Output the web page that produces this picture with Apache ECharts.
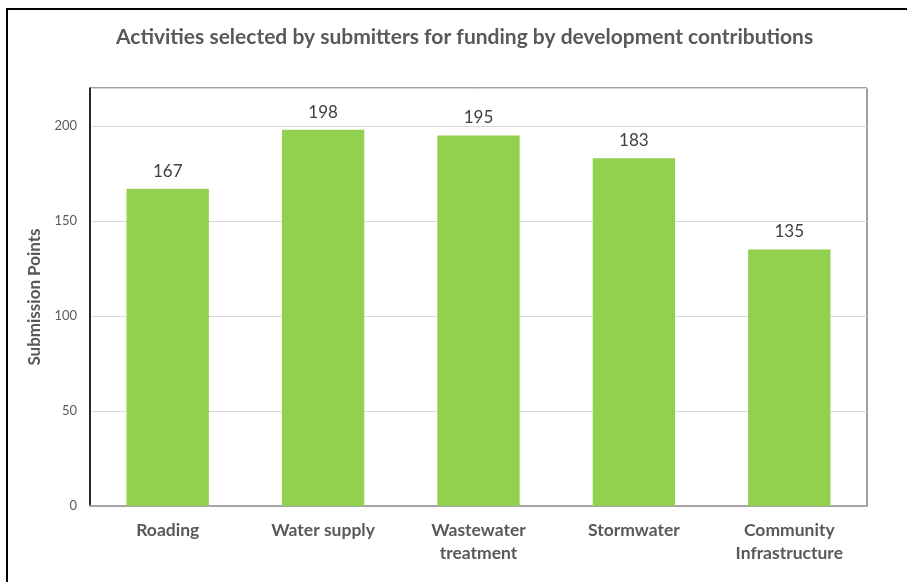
<!DOCTYPE html>
<html>
<head>
<meta charset="utf-8">
<script src="https://cdn.jsdelivr.net/npm/echarts@6/dist/echarts.min.js"></script>
<style>
  html, body { margin: 0; padding: 0; background: #fff; }
  #chart { width: 907px; height: 582px; }
</style>
</head>
<body>
<div id="chart"></div>
<script>
// Submission points per activity
const categories = ['Roading', 'Water supply', 'Wastewater\ntreatment', 'Stormwater', 'Community\nInfrastructure'];
const submissionPoints = [167, 198, 195, 183, 135];
const yTicks = { min: 0, max: 220, interval: 50 };

const FONT = 'Lato, "Noto Sans", sans-serif';
const chart = echarts.init(document.getElementById('chart'), null, { renderer: 'canvas' });

chart.setOption({
  backgroundColor: '#ffffff',
  animation: false,
  title: {
    text: 'Activities selected by submitters for funding by development contributions',
    left: 111,
    top: 22,
    textStyle: { fontFamily: FONT, fontSize: 21, fontWeight: 'bold', color: '#595959' }
  },
  graphic: [{
    type: 'rect',
    shape: { x: 7, y: 9, width: 1000, height: 1000 },
    style: { fill: 'none', stroke: '#000', lineWidth: 2 },
    silent: true
  }],
  grid: {
    left: 90, right: 40, top: 88, bottom: 76,
    show: true, borderColor: '#404040', borderWidth: 1, backgroundColor: 'transparent'
  },
  xAxis: {
    type: 'category',
    data: categories,
    axisLine: { lineStyle: { color: '#a6a6a6', width: 2 } },
    axisTick: { show: false },
    axisLabel: {
      fontFamily: FONT, fontSize: 17.5, fontWeight: 'bold', color: '#595959',
      margin: 13, lineHeight: 23, interval: 0
    }
  },
  yAxis: {
    type: 'value',
    min: yTicks.min, max: yTicks.max, interval: yTicks.interval,
    name: 'Submission Points',
    nameLocation: 'middle',
    nameGap: 43,
    nameTextStyle: { fontFamily: FONT, fontSize: 17, fontWeight: 'bold', color: '#595959' },
    axisLine: { show: true, lineStyle: { color: '#000', width: 1.5 } },
    axisTick: { show: false },
    axisLabel: { fontFamily: FONT, fontSize: 13, color: '#595959', margin: 13, showMaxLabel: false },
    splitLine: { lineStyle: { color: '#d9d9d9', width: 1 } }
  },
  series: [{
    type: 'bar',
    data: submissionPoints,
    barWidth: '53%',
    itemStyle: { color: '#92d050' },
    label: {
      show: true, position: 'top', distance: 9,
      fontFamily: FONT, fontSize: 17, color: '#404040'
    }
  }]
});
</script>
</body>
</html>
